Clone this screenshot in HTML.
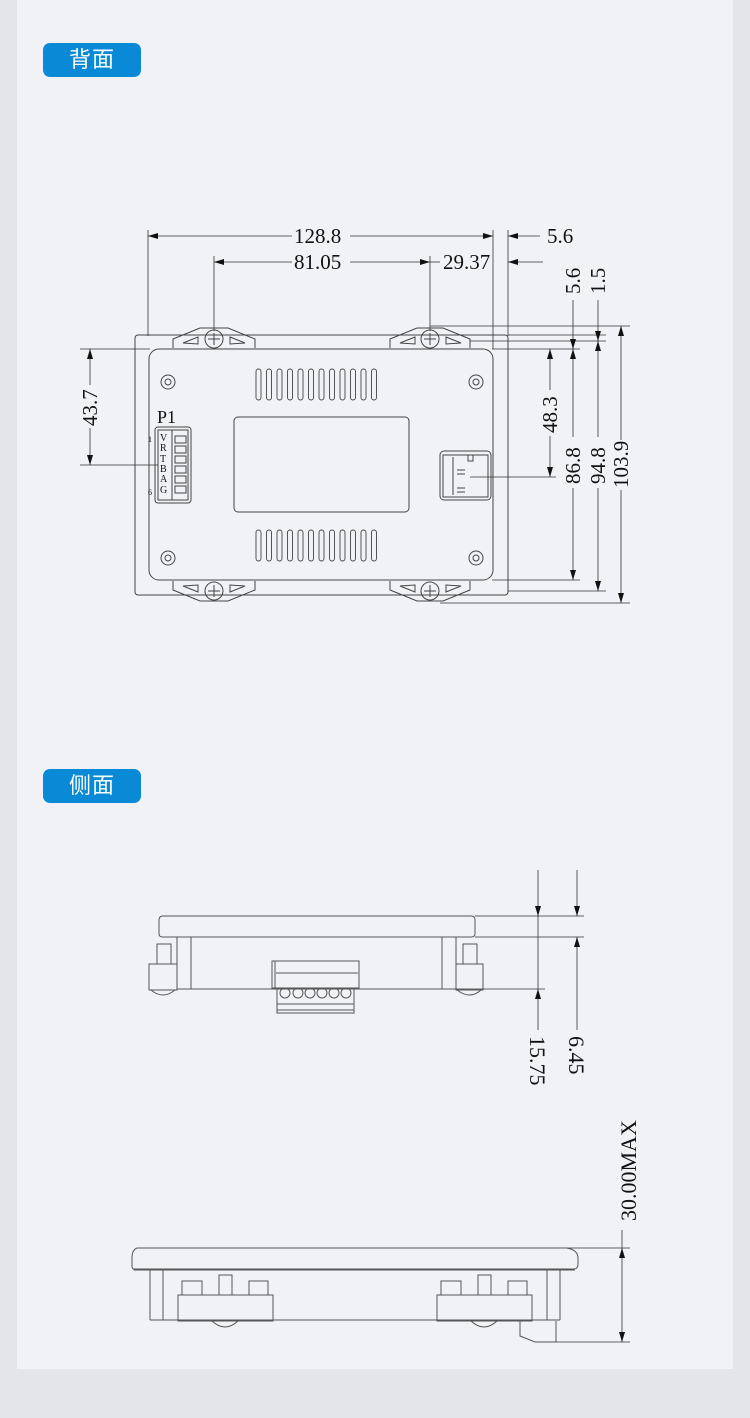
<!DOCTYPE html>
<html><head><meta charset="utf-8"><style>
html,body{margin:0;padding:0;background:#e4e5e8;}
.wrap{position:relative;width:750px;height:1418px;overflow:hidden;}
.panel{position:absolute;left:17px;top:0;width:716px;height:1369px;background:#f1f2f6;}
.badge{position:absolute;left:43px;width:98px;height:34px;border-radius:7px;background:#0a8ad6;color:#fff;font:22px "Liberation Sans","Noto Sans CJK SC",sans-serif;text-align:center;line-height:34px;letter-spacing:1px;}
svg{position:absolute;left:0;top:0;}
</style></head><body><div class="wrap">
<div class="panel"></div>
<div class="badge" style="top:43px">背面</div>
<div class="badge" style="top:769px">侧面</div>
<svg width="750" height="1418" viewBox="0 0 750 1418" font-family="Liberation Serif, serif" fill="none" stroke="#333" stroke-width="1">
<defs>
<marker id="a" viewBox="0 0 10 6" refX="10" refY="3" markerWidth="15" markerHeight="6" orient="auto-start-reverse" markerUnits="userSpaceOnUse"><path d="M0,0L10,3L0,6z" fill="#111" stroke="none"/></marker>
</defs>
<!-- TOP VIEW -->
<rect x="135" y="335" width="373" height="260" rx="3" stroke="#444"/>
<rect x="149" y="349" width="344" height="231" rx="10" stroke="#444"/>
<g stroke="#444">
<path d="M173,348 L173,339 L200,328 L228,328 L255,339 L255,348"/>
<path d="M390,348 L390,339 L417,328 L443,328 L470,339 L470,348"/>
<path d="M173,581 L173,590 L200,601 L228,601 L255,590 L255,581"/>
<path d="M390,581 L390,590 L417,601 L443,601 L470,590 L470,581"/>
<path d="M183,343 L198,337 L198,344z M230,337 L245,343 L230,344z M400,343 L415,337 L415,344z M446,337 L461,343 L446,344z"/>
<path d="M183,586 L198,592 L198,585z M230,592 L245,586 L230,585z M400,586 L415,592 L415,585z M446,592 L461,586 L446,585z"/>
</g>
<g stroke="#444">
<circle cx="214" cy="339" r="9"/><circle cx="430" cy="339" r="9"/><circle cx="214" cy="591" r="9"/><circle cx="430" cy="591" r="9"/>
<path d="M208,339h12M214,333v12M424,339h12M430,333v12M208,591h12M214,585v12M424,591h12M430,585v12"/>
<circle cx="168" cy="382" r="7"/><circle cx="476" cy="382" r="7"/><circle cx="168" cy="558" r="7"/><circle cx="476" cy="558" r="7"/>
<circle cx="168" cy="382" r="3"/><circle cx="476" cy="382" r="3"/><circle cx="168" cy="558" r="3"/><circle cx="476" cy="558" r="3"/>
</g>
<g stroke="#444" stroke-width="0.9">
<rect x="256" y="369" width="5" height="31" rx="2.5"/><rect x="266.5" y="369" width="5" height="31" rx="2.5"/><rect x="277" y="369" width="5" height="31" rx="2.5"/><rect x="287.5" y="369" width="5" height="31" rx="2.5"/><rect x="298" y="369" width="5" height="31" rx="2.5"/><rect x="308.5" y="369" width="5" height="31" rx="2.5"/><rect x="319" y="369" width="5" height="31" rx="2.5"/><rect x="329.5" y="369" width="5" height="31" rx="2.5"/><rect x="340" y="369" width="5" height="31" rx="2.5"/><rect x="350.5" y="369" width="5" height="31" rx="2.5"/><rect x="361" y="369" width="5" height="31" rx="2.5"/><rect x="371.5" y="369" width="5" height="31" rx="2.5"/>
<rect x="256" y="530" width="5" height="31" rx="2.5"/><rect x="266.5" y="530" width="5" height="31" rx="2.5"/><rect x="277" y="530" width="5" height="31" rx="2.5"/><rect x="287.5" y="530" width="5" height="31" rx="2.5"/><rect x="298" y="530" width="5" height="31" rx="2.5"/><rect x="308.5" y="530" width="5" height="31" rx="2.5"/><rect x="319" y="530" width="5" height="31" rx="2.5"/><rect x="329.5" y="530" width="5" height="31" rx="2.5"/><rect x="340" y="530" width="5" height="31" rx="2.5"/><rect x="350.5" y="530" width="5" height="31" rx="2.5"/><rect x="361" y="530" width="5" height="31" rx="2.5"/><rect x="371.5" y="530" width="5" height="31" rx="2.5"/>
</g>
<rect x="234" y="417" width="175" height="95" rx="4" stroke="#444"/>
<!-- P1 connector -->
<text x="157" y="423" font-size="18" fill="#111" stroke="none">P1</text>
<rect x="155" y="427" width="36" height="76" rx="3" stroke="#444"/>
<rect x="158" y="430" width="30" height="70" stroke="#444"/>
<path d="M172,430v70" stroke="#444"/>
<g stroke="#444"><rect x="175" y="436" width="11" height="7"/><rect x="175" y="446" width="11" height="7"/><rect x="175" y="456" width="11" height="7"/><rect x="175" y="466" width="11" height="7"/><rect x="175" y="476" width="11" height="7"/><rect x="175" y="486" width="11" height="7"/></g>
<g font-size="10" fill="#111" stroke="none"><text x="160" y="441">V</text><text x="160" y="451">R</text><text x="160" y="462">T</text><text x="160" y="472">B</text><text x="160" y="482">A</text><text x="160" y="493">G</text>
<text x="148" y="442" font-size="8">1</text><text x="148" y="495" font-size="8">6</text></g>
<!-- right connector -->
<rect x="440" y="451" width="51" height="49" rx="4" stroke="#444"/>
<rect x="443" y="455" width="45" height="42" stroke="#444"/>
<path d="M453,457v38M468,455v6h5v-6M457,470h8M457,474h8M457,488h8M457,492h8" stroke="#444"/>
<!-- top dims -->
<g stroke="#333" stroke-width="0.8">
<path d="M148,230V336M493,230V349M508,230V336M214,256V331M430,256V331"/>
<path d="M148,236H292" marker-start="url(#a)"/><path d="M350,236H493" marker-end="url(#a)"/>
<path d="M508,236H540" marker-start="url(#a)"/>
<path d="M214,262H292" marker-start="url(#a)"/><path d="M350,262H430" marker-end="url(#a)"/>
<path d="M430,262H440" />
<path d="M508,262H543" marker-start="url(#a)"/>
</g>
<g font-size="21" fill="#111" stroke="none">
<text x="294" y="243">128.8</text><text x="547" y="243">5.6</text>
<text x="294" y="269">81.05</text><text x="443" y="269">29.37</text>
</g>
<!-- right dims -->
<g stroke="#333" stroke-width="0.8">
<path d="M430,326H630M508,335H606M470,341H606M492,349H580M470,477H556M492,580H580M508,591H606M440,603H630"/>
<path d="M80,349H150M80,465H158"/>
<path d="M550,349V390" marker-start="url(#a)"/><path d="M550,436V477" marker-end="url(#a)"/>
<path d="M573,300V349" marker-end="url(#a)"/><path d="M573,349V437" marker-start="url(#a)"/><path d="M573,488V580" marker-end="url(#a)"/>
<path d="M598,300V341" marker-end="url(#a)"/><path d="M598,341V437" marker-start="url(#a)"/><path d="M598,488V591" marker-end="url(#a)"/>
<path d="M621,326V440" marker-start="url(#a)"/><path d="M621,490V603" marker-end="url(#a)"/>
<path d="M90,349V385" marker-start="url(#a)"/><path d="M90,428V465" marker-end="url(#a)"/>
</g>
<g font-size="21" fill="#111" stroke="none">
<text transform="translate(580,294) rotate(-90)">5.6</text>
<text transform="translate(605,294) rotate(-90)">1.5</text>
<text transform="translate(557,433) rotate(-90)">48.3</text>
<text transform="translate(580,484) rotate(-90)">86.8</text>
<text transform="translate(605,484) rotate(-90)">94.8</text>
<text transform="translate(628,488) rotate(-90)">103.9</text>
<text transform="translate(97,426) rotate(-90)">43.7</text>
</g>
<!-- SIDE VIEW 1 -->
<g stroke="#555">
<path d="M163,916H471Q475,916 475,920V934Q475,937 471,937H163Q159,937 159,934V920Q159,916 163,916z"/>
<path d="M177,937V989M191,937V989M442,937V989M456,937V989M177,989H456"/>
<rect x="157" y="944" width="14" height="20"/><rect x="149" y="964" width="28" height="26"/>
<path d="M151,990Q163,1000 175,990"/>
<rect x="463" y="944" width="14" height="20"/><rect x="456" y="964" width="27" height="26"/>
<path d="M457,990Q470,1000 481,990"/>
<rect x="272" y="961" width="87" height="27"/><path d="M275,961v27M276,973h82"/>
<rect x="277" y="989" width="77" height="24"/><path d="M277,1004h77M277,1010h77"/>
<circle cx="285" cy="993" r="5"/><circle cx="298" cy="993" r="5"/><circle cx="310" cy="993" r="5"/><circle cx="322" cy="993" r="5"/><circle cx="334" cy="993" r="5"/><circle cx="346" cy="993" r="5"/>
</g>
<g stroke="#333" stroke-width="0.8">
<path d="M475,916H584M475,937H584M456,989H545"/>
<path d="M538,870V916" marker-end="url(#a)"/><path d="M538,989V1030" marker-start="url(#a)"/><path d="M538,916V989"/>
<path d="M577,870V916" marker-end="url(#a)"/><path d="M577,937V1030" marker-start="url(#a)"/>
</g>
<g font-size="22" fill="#111" stroke="none">
<text transform="translate(530,1036) rotate(90)">15.75</text>
<text transform="translate(569,1036) rotate(90)">6.45</text>
<text transform="translate(636,1221) rotate(-90)">30.00MAX</text>
</g>
<!-- SIDE VIEW 2 -->
<g stroke="#555">
<path d="M137,1248H567Q578,1250 578,1258V1264Q578,1269 574,1269H134Q132,1269 132,1266V1258Q132,1250 137,1248z"/>
<path d="M134,1269V1270H575M150,1270V1320M163,1270V1320M547,1270V1320M560,1270V1320M150,1320H560"/>
<rect x="178" y="1295" width="95" height="26"/><rect x="182" y="1281" width="20" height="14"/><rect x="219" y="1275" width="13" height="20"/><rect x="249" y="1281" width="19" height="14"/>
<path d="M212,1321Q225,1333 238,1321"/>
<rect x="437" y="1295" width="95" height="26"/><rect x="441" y="1281" width="20" height="14"/><rect x="478" y="1275" width="13" height="20"/><rect x="508" y="1281" width="19" height="14"/>
<path d="M471,1321Q484,1333 497,1321"/>
<path d="M520,1321V1336L535,1342H556V1321"/>
</g>
<g stroke="#333" stroke-width="0.8">
<path d="M567,1248H630M556,1342H630"/>
<path d="M622,1230V1248"/><path d="M622,1248V1342" marker-start="url(#a)" marker-end="url(#a)"/>
</g>
</svg>
</div></body></html>
